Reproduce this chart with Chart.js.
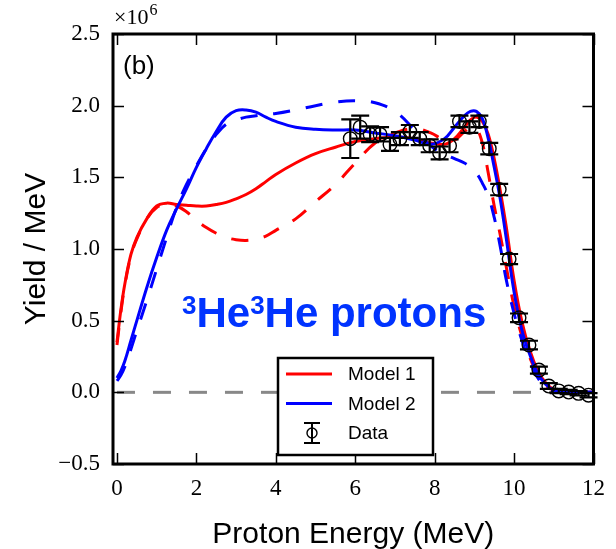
<!DOCTYPE html>
<html>
<head>
<meta charset="utf-8">
<script src="https://cdn.jsdelivr.net/npm/chart.js@4.4.0/dist/chart.umd.min.js"></script>
<style>
  html, body { margin: 0; padding: 0; background: #fff; }
</style>
</head>
<body>
<canvas id="chart-yield" width="616" height="549"></canvas>
<script>
// Yield / MeV vs proton energy – 3He3He protons, panel (b)
// Values in units of 10^6 (axis multiplier drawn separately)

// --- model curves (common energy grid, MeV) ---
const modelEnergy = [0, 0.1, 0.2, 0.35, 0.5, 0.75, 1.0, 1.25, 1.5, 1.75,
  2.0, 2.25, 2.5, 2.75, 3.0, 3.25, 3.5, 3.75, 4.0, 4.5,
  5.0, 5.5, 6.0, 6.5, 7.0, 7.5, 7.9, 8.25, 8.5, 8.75,
  8.9, 9.05, 9.2, 9.35, 9.5, 9.65, 9.8, 10.0, 10.2, 10.4,
  10.6, 10.8, 11.0, 11.25, 11.5, 12.0];

const model1 = [0.35, 0.58, 0.76, 0.96, 1.08, 1.21, 1.30, 1.32, 1.31, 1.305,
  1.30, 1.30, 1.31, 1.325, 1.35, 1.38, 1.42, 1.47, 1.52, 1.60,
  1.665, 1.71, 1.75, 1.77, 1.78, 1.77, 1.74, 1.73, 1.77, 1.85,
  1.90, 1.92, 1.89, 1.80, 1.63, 1.41, 1.16, 0.78, 0.49, 0.29,
  0.15, 0.065, 0.02, 0.005, 0, 0];

const model1Dashed = [0.33, 0.56, 0.75, 0.95, 1.07, 1.21, 1.29, 1.31, 1.30, 1.26,
  1.20, 1.15, 1.11, 1.08, 1.065, 1.06, 1.07, 1.09, 1.13, 1.21,
  1.33, 1.45, 1.60, 1.74, 1.81, 1.84, 1.81, 1.76, 1.76, 1.82,
  1.85, 1.84, 1.74, 1.53, 1.30, 1.10, 0.88, 0.60, 0.39, 0.24,
  0.12, 0.05, 0.015, 0.003, 0, 0];

const model2 = [0.10, 0.15, 0.22, 0.36, 0.50, 0.73, 0.94, 1.13, 1.28, 1.42,
  1.57, 1.70, 1.82, 1.92, 1.965, 1.97, 1.955, 1.92, 1.89, 1.85,
  1.835, 1.83, 1.83, 1.81, 1.79, 1.76, 1.73, 1.77, 1.85, 1.93,
  1.96, 1.96, 1.91, 1.77, 1.57, 1.35, 1.08, 0.70, 0.43, 0.26,
  0.13, 0.055, 0.015, 0.003, 0, 0];

const model2Dashed = [0.08, 0.12, 0.18, 0.30, 0.43, 0.64, 0.86, 1.08, 1.29, 1.45,
  1.58, 1.70, 1.80, 1.87, 1.90, 1.92, 1.93, 1.94, 1.945, 1.97,
  2.00, 2.025, 2.035, 2.02, 1.96, 1.83, 1.72, 1.66, 1.63, 1.60,
  1.57, 1.53, 1.46, 1.37, 1.22, 1.02, 0.79, 0.55, 0.36, 0.21,
  0.10, 0.04, 0.01, 0.002, 0, 0];

// --- measured data ---
const dataEnergy = [5.875, 6.125, 6.375, 6.625, 6.875, 7.125, 7.375, 7.625, 7.875, 8.125,
  8.375, 8.625, 8.875, 9.125, 9.375, 9.625, 9.875, 10.125, 10.375, 10.625,
  10.875, 11.125, 11.375, 11.625, 11.875];
const dataYield = [1.77, 1.85, 1.80, 1.80, 1.73, 1.77, 1.82, 1.77, 1.72, 1.67,
  1.72, 1.89, 1.85, 1.89, 1.70, 1.415, 0.93, 0.52, 0.33, 0.155,
  0.044, 0.01, 0.002, -0.007, -0.02];
const dataError = [0.135, 0.08, 0.055, 0.05, 0.045, 0.045, 0.045, 0.045, 0.045, 0.045,
  0.045, 0.04, 0.04, 0.04, 0.04, 0.04, 0.035, 0.03, 0.03, 0.025,
  0.02, 0.015, 0.015, 0.015, 0.015];

// zero reference line
const zeroLineX = [0, 12];
const zeroLineY = [0, 0];

// ticks
const xTicks = [0, 2, 4, 6, 8, 10, 12];
const yTicks = [-0.5, 0, 0.5, 1.0, 1.5, 2.0, 2.5];
const yTickLabels = ["\u22120.5", "0.0", "0.5", "1.0", "1.5", "2.0", "2.5"];

const legendOrder = ["Model 1", "Model 2", "Data"];

function toPoints(xs, ys) {
  return xs.map((x, i) => ({ x: x, y: ys[i] }));
}

function curve(label, ys, color, dashed) {
  return {
    label: label,
    data: toPoints(modelEnergy, ys),
    borderColor: color,
    backgroundColor: color,
    borderWidth: 3,
    borderDash: dashed ? [17, 16] : [],
    pointRadius: 0,
    tension: 0.4
  };
}

// error bars on the data series
const errorBarsPlugin = {
  id: "errorBars",
  afterDatasetsDraw(chart) {
    const ctx = chart.ctx;
    const xs = chart.scales.x;
    const ys = chart.scales.y;
    ctx.save();
    ctx.strokeStyle = "#000";
    ctx.lineWidth = 2.2;
    dataEnergy.forEach((e, i) => {
      const px = xs.getPixelForValue(e);
      const top = ys.getPixelForValue(dataYield[i] + dataError[i]);
      const bot = ys.getPixelForValue(dataYield[i] - dataError[i]);
      ctx.beginPath();
      ctx.moveTo(px, top); ctx.lineTo(px, bot);
      ctx.moveTo(px - 9, top); ctx.lineTo(px + 9, top);
      ctx.moveTo(px - 9, bot); ctx.lineTo(px + 9, bot);
      ctx.stroke();
    });
    ctx.restore();
  }
};

// frame + inward ticks on all four sides
const framePlugin = {
  id: "frame",
  afterDatasetsDraw(chart) {
    const ctx = chart.ctx;
    const a = chart.chartArea;
    const xs = chart.scales.x;
    const ys = chart.scales.y;
    const len = 11;
    ctx.save();
    ctx.strokeStyle = "#000";
    ctx.lineWidth = 1.5;
    ctx.beginPath();
    xTicks.forEach(v => {
      const px = Math.round(xs.getPixelForValue(v)) + 0.5;
      ctx.moveTo(px, a.bottom); ctx.lineTo(px, a.bottom - len);
      ctx.moveTo(px, a.top); ctx.lineTo(px, a.top + len);
    });
    yTicks.forEach(v => {
      const py = Math.round(ys.getPixelForValue(v)) + 0.5;
      ctx.moveTo(a.left, py); ctx.lineTo(a.left + len, py);
      ctx.moveTo(a.right, py); ctx.lineTo(a.right - len, py);
    });
    ctx.stroke();
    ctx.lineWidth = 3;
    ctx.strokeRect(a.left, a.top, a.right - a.left, a.bottom - a.top);
    ctx.restore();
  }
};

// annotations: multiplier, panel tag, reaction label
const annotationsPlugin = {
  id: "annotations",
  afterDraw(chart) {
    const ctx = chart.ctx;
    const a = chart.chartArea;
    ctx.save();
    ctx.fillStyle = "#000";
    ctx.textBaseline = "alphabetic";
    ctx.textAlign = "left";

    // x10^6
    ctx.font = "22px 'Liberation Serif'";
    ctx.fillText("\u00d710", a.left + 1, a.top - 10);
    const w = ctx.measureText("\u00d710").width;
    ctx.font = "16px 'Liberation Serif'";
    ctx.fillText("6", a.left + w + 2, a.top - 19);

    // (b)
    ctx.font = "26px 'Liberation Sans'";
    ctx.fillText("(b)", a.left + 10, a.top + 40);

    // 3He3He protons
    ctx.fillStyle = "#0033ff";
    const parts = [
      { t: "3", f: "bold 26px 'Liberation Sans'", dy: -13 },
      { t: "He", f: "bold 42px 'Liberation Sans'", dy: 0 },
      { t: "3", f: "bold 26px 'Liberation Sans'", dy: -13 },
      { t: "He protons", f: "bold 42px 'Liberation Sans'", dy: 0 }
    ];
    let x = 182;
    parts.forEach(p => {
      ctx.font = p.f;
      ctx.fillText(p.t, x, 327 + p.dy);
      x += ctx.measureText(p.t).width;
    });
    ctx.restore();
  }
};

// boxed legend: Model 1, Model 2, Data
const boxedLegendPlugin = {
  id: "boxedLegend",
  afterDraw(chart) {
    const ctx = chart.ctx;
    const box = { left: 278, top: 358, width: 155, height: 97 };
    ctx.save();
    ctx.fillStyle = "#fff";
    ctx.fillRect(box.left, box.top, box.width, box.height);
    ctx.strokeStyle = "#000";
    ctx.lineWidth = 2.5;
    ctx.strokeRect(box.left, box.top, box.width, box.height);

    ctx.font = "19px 'Liberation Sans'";
    ctx.textBaseline = "middle";
    ctx.textAlign = "left";
    legendOrder.forEach((label, i) => {
      const ds = chart.data.datasets.find(d => d.label === label);
      if (!ds) return;
      const cy = box.top + 16 + i * 29.5;
      if (label === "Data") {
        ctx.strokeStyle = "#000";
        ctx.lineWidth = 2;
        ctx.beginPath();
        ctx.moveTo(312, cy - 10); ctx.lineTo(312, cy + 10);
        ctx.moveTo(304, cy - 10); ctx.lineTo(320, cy - 10);
        ctx.moveTo(304, cy + 10); ctx.lineTo(320, cy + 10);
        ctx.stroke();
        ctx.lineWidth = 1.4;
        ctx.beginPath();
        ctx.arc(312, cy, 5, 0, Math.PI * 2);
        ctx.stroke();
      } else {
        ctx.strokeStyle = ds.borderColor;
        ctx.lineWidth = 3;
        ctx.beginPath();
        ctx.moveTo(286, cy); ctx.lineTo(332, cy);
        ctx.stroke();
      }
      ctx.fillStyle = "#000";
      ctx.fillText(label, 348, cy + 1);
    });
    ctx.restore();
  }
};

function createChart() {
  const canvas = document.getElementById("chart-yield");
  if (!canvas || typeof Chart === "undefined") {
    console.warn("[chart] Canvas or Chart.js not available.");
    return;
  }

  // draw order: first dataset ends on top
  const datasets = [
    {
      label: "Data",
      data: toPoints(dataEnergy, dataYield),
      showLine: false,
      pointRadius: 6.8,
      pointHoverRadius: 6.8,
      pointBorderColor: "#000",
      pointBackgroundColor: "rgba(0,0,0,0)",
      pointBorderWidth: 1.4,
      borderColor: "#000"
    },
    curve("Model 2 (dashed)", model2Dashed, "#0000ff", true),
    curve("Model 2", model2, "#0000ff", false),
    curve("Model 1 (dashed)", model1Dashed, "#ff0000", true),
    curve("Model 1", model1, "#ff0000", false),
    {
      label: "zero",
      data: toPoints(zeroLineX, zeroLineY),
      borderColor: "#888888",
      borderWidth: 3,
      borderDash: [18, 18],
      pointRadius: 0
    }
  ];

  new Chart(canvas.getContext("2d"), {
    type: "line",
    data: { datasets },
    options: {
      responsive: false,
      animation: false,
      devicePixelRatio: 1,
      layout: { padding: { top: 34, right: 20, bottom: 0, left: 0 } },
      plugins: {
        legend: { display: false },
        tooltip: { enabled: false }
      },
      scales: {
        x: {
          type: "linear",
          min: -0.1,
          max: 12,
          afterBuildTicks: s => { s.ticks = xTicks.map(v => ({ value: v })); },
          afterFit: s => { s.height = 85; },
          grid: { display: false, drawTicks: false },
          border: { display: false },
          ticks: {
            color: "#000",
            padding: 11,
            maxRotation: 0,
            font: { family: "Liberation Serif", size: 23 },
            callback: v => String(v)
          },
          title: {
            display: true,
            text: "Proton Energy (MeV)",
            color: "#000",
            font: { family: "Liberation Sans", size: 30 },
            padding: { top: 0, bottom: -4 }
          }
        },
        y: {
          type: "linear",
          min: -0.5,
          max: 2.5,
          afterBuildTicks: s => { s.ticks = yTicks.map(v => ({ value: v })); },
          afterFit: s => { s.width = 113; },
          grid: { display: false, drawTicks: false },
          border: { display: false },
          ticks: {
            color: "#000",
            padding: 13,
            font: { family: "Liberation Serif", size: 23 },
            callback: v => yTickLabels[yTicks.indexOf(v)]
          },
          title: {
            display: true,
            text: "Yield / MeV",
            color: "#000",
            font: { family: "Liberation Sans", size: 30 },
            padding: { top: 19, bottom: 0 }
          }
        }
      }
    },
    plugins: [errorBarsPlugin, framePlugin, annotationsPlugin, boxedLegendPlugin]
  });
}

window.addEventListener("load", createChart);
</script>
</body>
</html>
